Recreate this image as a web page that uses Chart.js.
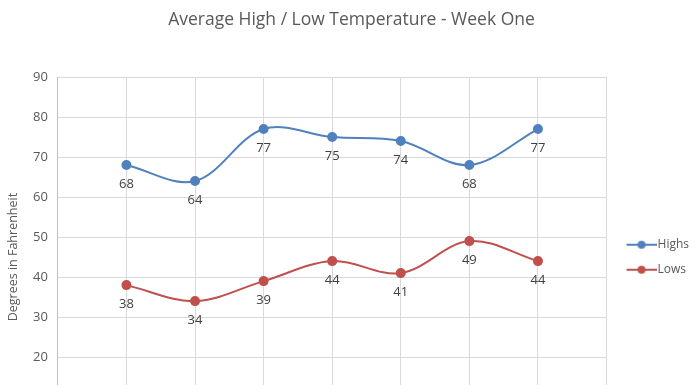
<!DOCTYPE html>
<html>
<head>
<meta charset="utf-8">
<script src="https://cdn.jsdelivr.net/npm/chart.js@4/dist/chart.umd.min.js"></script>
<style>
  html, body { margin: 0; padding: 0; background: #fff; overflow: hidden; }
  #wrap { width: 696px; height: 455px; }
</style>
</head>
<body>
<div id="wrap"><canvas id="tempChart"></canvas></div>
<script>
const days = [1, 2, 3, 4, 5, 6, 7];
const highs = [68, 64, 77, 75, 74, 68, 77];
const lows = [38, 34, 39, 44, 41, 49, 44];

const blue = '#4f81bd';
const red = '#c0504d';

// legend marker: short line with a dot, left side kept blank so it sits right
function legendIcon(color) {
    const c = document.createElement('canvas');
    c.width = 42;
    c.height = 10;
    const ctx = c.getContext('2d');
    ctx.strokeStyle = color;
    ctx.lineWidth = 2;
    ctx.beginPath();
    ctx.moveTo(12, 5);
    ctx.lineTo(42, 5);
    ctx.stroke();
    ctx.fillStyle = color;
    ctx.beginPath();
    ctx.arc(27, 5, 4, 0, Math.PI * 2);
    ctx.fill();
    return c;
}

// labels under each point
const pointLabels = {
    id: 'pointLabels',
    afterDatasetsDraw(chart) {
        const ctx = chart.ctx;
        ctx.save();
        ctx.font = '13px "Open Sans"';
        ctx.fillStyle = '#404040';
        ctx.textAlign = 'center';
        ctx.textBaseline = 'middle';
        chart.data.datasets.forEach((ds, i) => {
            chart.getDatasetMeta(i).data.forEach((pt, j) => {
                ctx.fillText(ds.data[j].y, pt.x, pt.y + 19);
            });
        });
        ctx.restore();
    }
};

document.addEventListener('DOMContentLoaded', () => {
    new Chart(document.getElementById('tempChart'), {
        type: 'line',
        data: {
            datasets: [{
                label: 'Highs',
                data: days.map((d, i) => ({ x: d, y: highs[i] })),
                borderColor: blue,
                backgroundColor: blue,
                borderWidth: 2,
                pointRadius: 4,
                tension: 0.35
            }, {
                label: 'Lows',
                data: days.map((d, i) => ({ x: d, y: lows[i] })),
                borderColor: red,
                backgroundColor: red,
                borderWidth: 2,
                pointRadius: 4,
                tension: 0.35
            }]
        },
        options: {
            responsive: true,
            maintainAspectRatio: false,
            animation: false,
            layout: { padding: { left: 4, right: -3, top: 0, bottom: 0 } },
            plugins: {
                title: {
                    display: true,
                    text: 'Average High / Low Temperature - Week One',
                    color: '#595959',
                    font: { family: '"Open Sans"', size: 17.5, weight: 'normal' },
                    padding: { top: 10, bottom: 46 }
                },
                legend: {
                    position: 'right',
                    title: {
                        display: true,
                        text: '',
                        padding: { top: 45, bottom: 0 }
                    },
                    labels: {
                        usePointStyle: true,
                        pointStyleWidth: 32,
                        color: '#595959',
                        font: { family: '"Open Sans"', size: 12 },
                        padding: 13,
                        generateLabels(chart) {
                            return chart.data.datasets.map((ds, i) => ({
                                text: ds.label,
                                pointStyle: legendIcon(ds.borderColor),
                                fillStyle: ds.borderColor,
                                strokeStyle: ds.borderColor,
                                fontColor: '#595959',
                                lineWidth: 0,
                                datasetIndex: i
                            }));
                        }
                    }
                },
                tooltip: { enabled: false }
            },
            scales: {
                x: {
                    type: 'linear',
                    min: 0,
                    max: 8,
                    ticks: { display: false, stepSize: 1 },
                    grid: { color: '#d9d9d9', lineWidth: 1, drawTicks: false },
                    border: { display: false }
                },
                y: {
                    min: 0,
                    max: 90,
                    ticks: {
                        stepSize: 10,
                        color: '#595959',
                        font: { family: '"Open Sans"', size: 13 },
                        padding: 10
                    },
                    grid: { color: '#d9d9d9', drawTicks: false },
                    border: { color: '#bfbfbf', width: 1 },
                    title: {
                        display: true,
                        text: 'Degrees in Fahrenheit',
                        color: '#595959',
                        font: { family: '"Open Sans"', size: 12.5 },
                        padding: 2
                    }
                }
            }
        },
        plugins: [pointLabels]
    });
});
</script>
</body>
</html>
